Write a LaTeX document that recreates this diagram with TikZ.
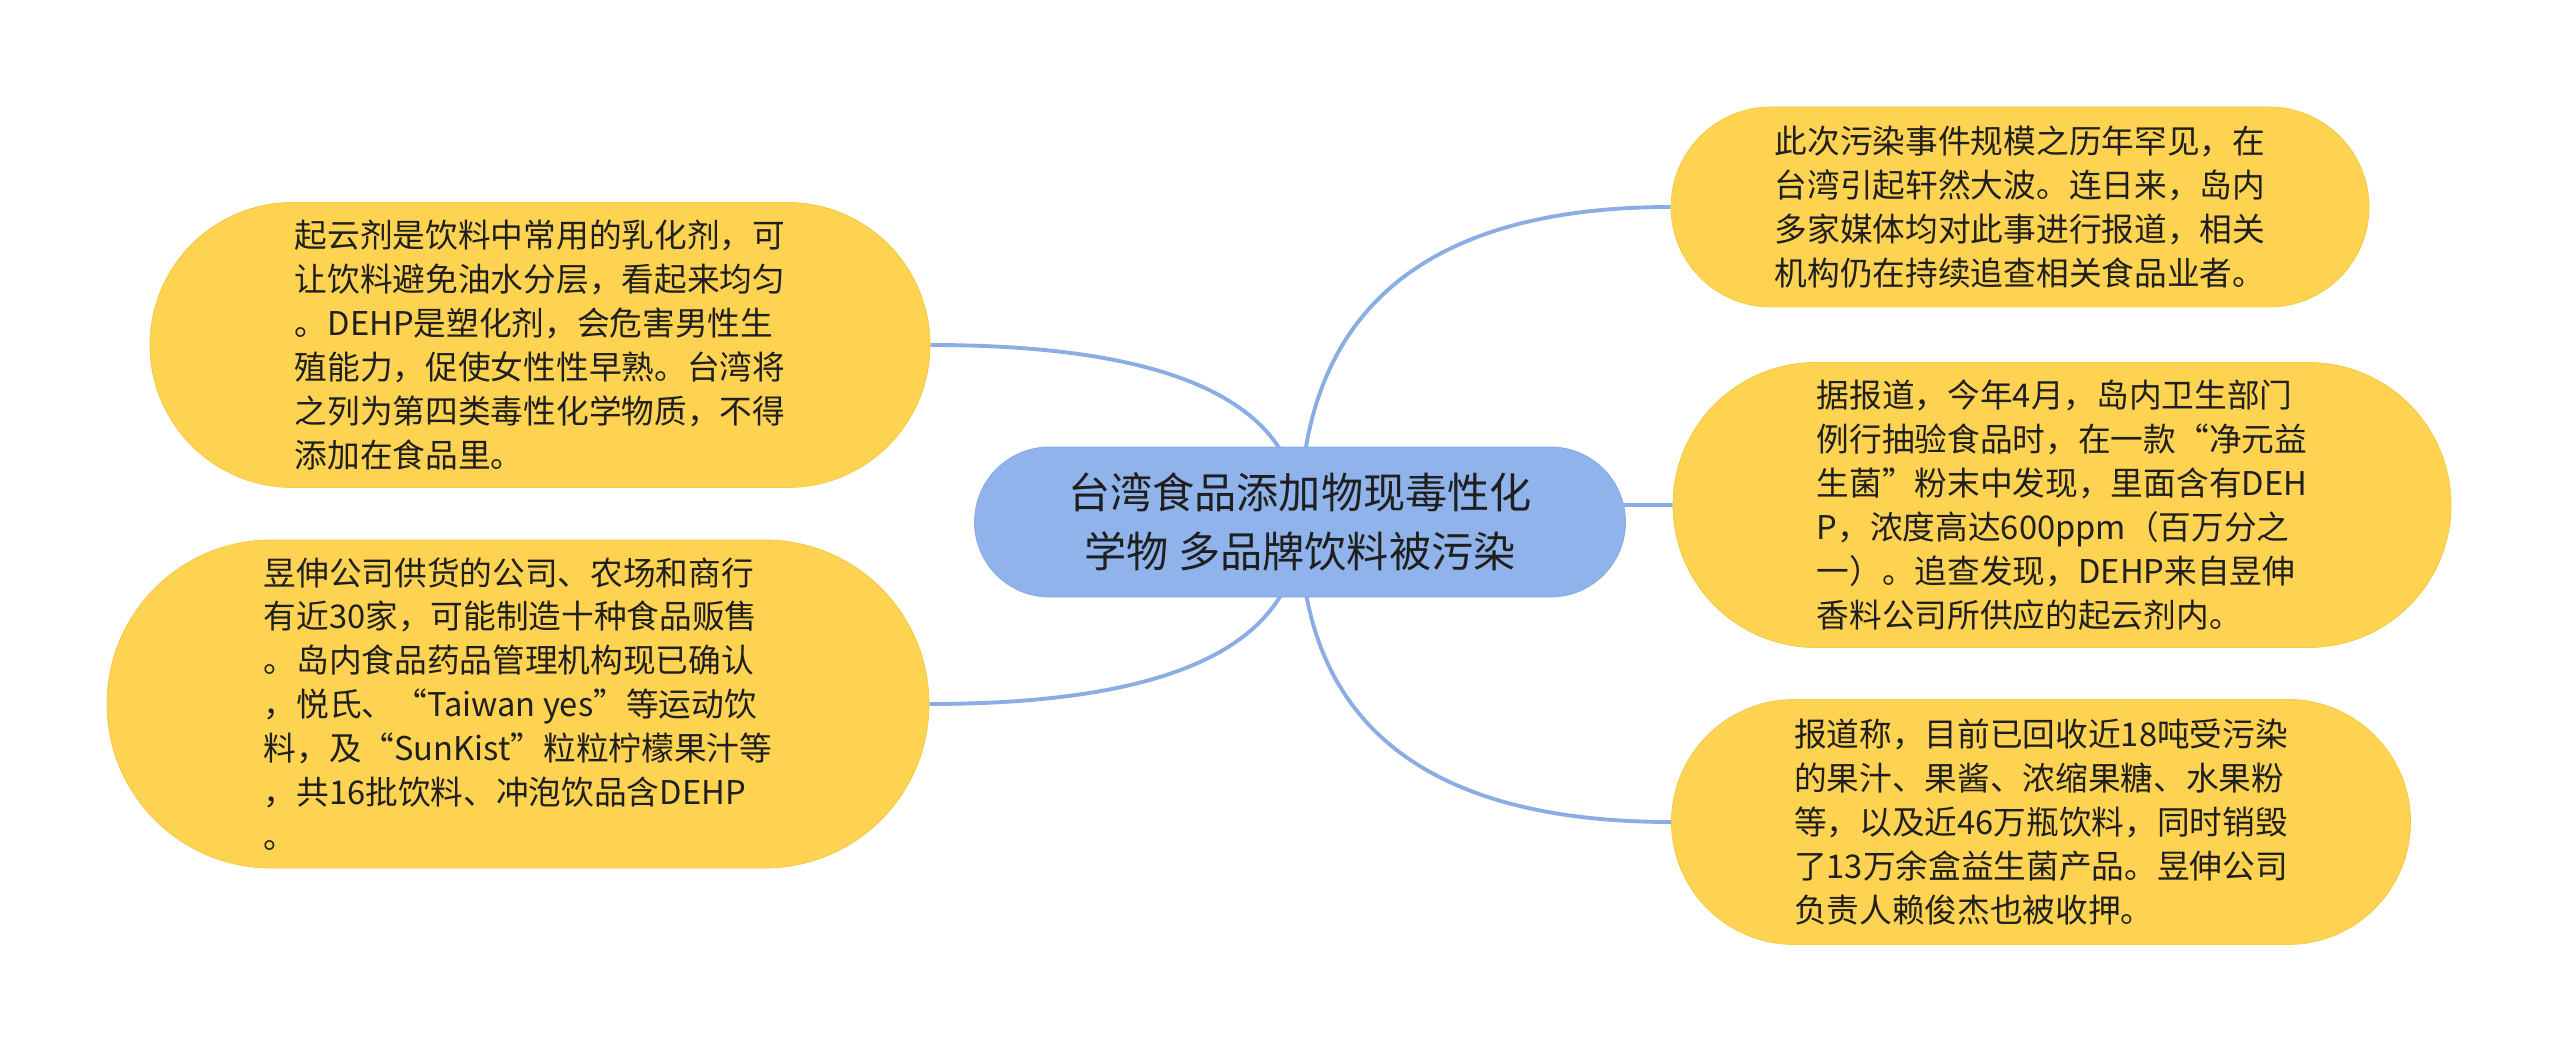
\documentclass[tikz,border=0pt]{standalone}
\usepackage{fontspec}
\setmainfont{Noto Sans CJK SC}
\usetikzlibrary{shapes.misc,calc,backgrounds}

\definecolor{branchfill}{HTML}{FDD351}
\definecolor{branchedge}{HTML}{F3C843}
\definecolor{topicfill}{HTML}{8FB3EA}
\definecolor{topicedge}{HTML}{82A8E2}
\definecolor{linkblue}{HTML}{8AADE3}
\definecolor{textdark}{HTML}{1F1F1F}

\begin{document}
\begin{tikzpicture}[
	topic/.style={ rounded rectangle, fill=topicfill, draw=topicedge, very thin, inner sep=0pt, align=center, text=textdark, font=\fontsize{12pt}{16.7pt}\selectfont },
	branch/.style={ rounded rectangle, fill=branchfill, draw=branchedge, very thin, inner sep=0pt, align=left, text=textdark, font=\fontsize{9.3pt}{12.5pt}\selectfont },
	link/.style={ draw=linkblue, line width=1.1pt }
]

\useasboundingbox (0,0) rectangle (25.6,10.5);

\node[topic, minimum width=6.51cm, minimum height=1.50cm] at (13.00,5.28) (root) {台湾食品添加物现毒性化\\学物 多品牌饮料被污染};

\node[branch, minimum width=7.80cm, minimum height=2.85cm] at (5.40,7.05) (lt) {起云剂是饮料中常用的乳化剂，可\\让饮料避免油水分层，看起来均匀\\。DEHP是塑化剂，会危害男性生\\殖能力，促使女性性早熟。台湾将\\之列为第四类毒性化学物质，不得\\添加在食品里。};
\node[branch, minimum width=8.22cm, minimum height=3.28cm] at (5.18,3.46) (lb) {昱伸公司供货的公司、农场和商行\\有近30家，可能制造十种食品贩售\\。岛内食品药品管理机构现已确认\\，悦氏、“Taiwan yes”等运动饮\\料，及“SunKist”粒粒柠檬果汁等\\，共16批饮料、冲泡饮品含DEHP\\。};
\node[branch, minimum width=6.98cm, minimum height=2.00cm] at (20.20,8.43) (rt) {此次污染事件规模之历年罕见，在\\台湾引起轩然大波。连日来，岛内\\多家媒体均对此事进行报道，相关\\机构仍在持续追查相关食品业者。};
\node[branch, minimum width=7.78cm, minimum height=2.85cm] at (20.62,5.45) (rm) {据报道，今年4月，岛内卫生部门\\例行抽验食品时，在一款“净元益\\生菌”粉末中发现，里面含有DEH\\P，浓度高达600ppm（百万分之\\一）。追查发现，DEHP来自昱伸\\香料公司所供应的起云剂内。};
\node[branch, minimum width=7.39cm, minimum height=2.45cm] at (20.41,2.28) (rb) {报道称，目前已回收近18吨受污染\\的果汁、果酱、浓缩果糖、水果粉\\等，以及近46万瓶饮料，同时销毁\\了13万余盒益生菌产品。昱伸公司\\负责人赖俊杰也被收押。};

\begin{scope}[on background layer]
\fill[white] (0,0) rectangle (25.6,10.5);
\foreach \p/\a in {lt/east,lb/east,rt/west,rm/west,rb/west}
	\draw[link] (root.center) .. controls ($(root.center)!2/3!(root.center|-\p.\a)$) and ($(\p.\a)!2/3!(root.center|-\p.\a)$) .. (\p.\a);
\end{scope}

\end{tikzpicture}
\end{document}
